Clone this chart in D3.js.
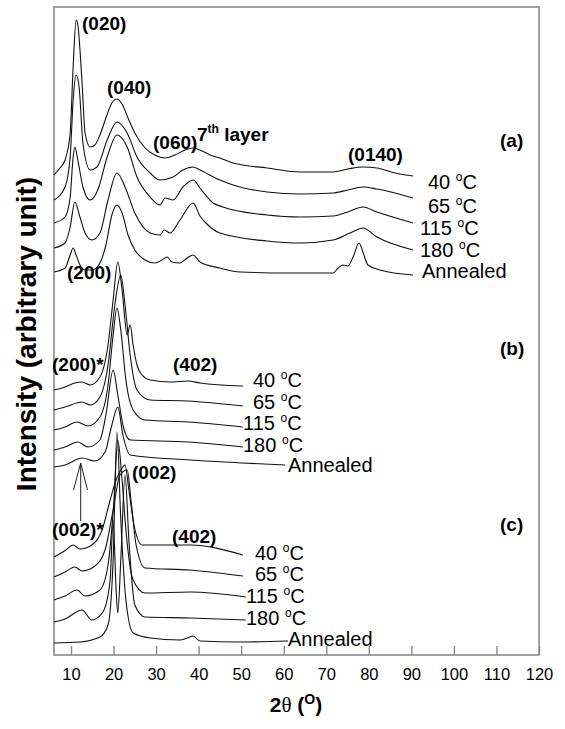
<!DOCTYPE html>
<html>
<head>
<meta charset="utf-8">
<script src="https://cdn.jsdelivr.net/npm/d3@7"></script>
<style>
  body { margin: 0; background: #fff; }
  svg { display: block; }
  text { font-family: Arial, "Liberation Sans", sans-serif; fill: #000; }
</style>
</head>
<body>
<svg id="chart" width="565" height="729"></svg>
<script>
// X-ray diffraction traces, stacked by temperature. Each point: [2θ (deg), intensity (arb. units, offset)]
const xDomain = [6, 120];
const xTicks = [10, 20, 30, 40, 50, 60, 70, 80, 90, 100, 110, 120];
const temps = ["40", "65", "115", "180", "Annealed"];

// (a)
const a40 = [[6.0,480],[7.4,487],[8.6,495],[9.8,522],[10.5,588],[11.2,635],[11.6,630],[12.6,572],[13.3,522],[14.5,508],[15.6,510],[16.8,520],[18.2,537],[19.6,552],[20.8,556],[22.0,551],[23.4,537],[25.0,522],[27.4,507],[29.7,500],[32.1,497],[34.4,500],[36.8,505],[38.7,507],[40.3,505],[42.7,500],[45.0,497],[48.1,492],[56.1,487],[63.8,483],[71.6,483],[75.1,486],[78.6,488],[81.9,487],[86.2,482],[90.4,479]];
const a65 = [[6.0,455],[8.6,468],[9.8,498],[10.5,555],[11.2,580],[11.9,568],[12.8,512],[14.5,485],[16.1,488],[18.5,515],[20.8,533],[23.2,522],[25.5,498],[28.6,482],[30.9,475],[34.0,478],[36.3,485],[38.7,488],[40.3,485],[45.0,475],[48.1,470],[56.1,463],[63.8,461],[71.6,462],[75.1,465],[78.6,468],[81.9,466],[90.4,457]];
const a115 = [[6.0,432],[8.6,438],[9.8,458],[10.5,498],[10.9,508],[11.6,495],[12.8,468],[14.5,455],[16.3,465],[18.5,498],[20.8,520],[23.2,508],[25.5,478],[28.6,458],[30.9,450],[32.1,457],[34.0,455],[36.3,468],[38.7,475],[40.3,467],[43.4,452],[45.7,448],[56.1,440],[63.8,438],[71.6,439],[75.1,443],[78.6,448],[81.9,443],[90.4,432]];
const a180 = [[6.0,407],[8.6,412],[9.8,428],[10.9,453],[12.1,438],[13.3,422],[14.9,415],[16.8,422],[18.7,455],[20.8,482],[22.7,468],[25.0,442],[28.6,422],[30.9,420],[31.9,425],[33.3,422],[35.6,435],[38.7,452],[40.3,439],[41.7,432],[45.0,422],[56.1,414],[63.8,412],[71.6,415],[75.6,422],[78.6,427],[81.9,418],[90.4,405]];
const aAnn = [[6.0,383],[8.6,387],[9.8,400],[10.5,407],[11.2,400],[12.1,390],[13.3,385],[14.9,385],[16.8,392],[18.2,410],[19.6,440],[20.8,450],[22.0,442],[23.4,420],[25.0,405],[27.4,395],[29.7,392],[31.4,395],[32.6,398],[33.7,393],[35.6,392],[37.3,397],[38.7,400],[40.3,393],[45.0,387],[49.7,383],[61.5,382],[71.6,382],[72.8,387],[73.9,390],[75.1,389],[76.3,398],[77.7,412],[78.6,403],[79.8,390],[82.6,385],[90.4,380]];

// (b)
const b40 = [[6.0,265],[8.6,268],[10.9,272],[12.6,273],[14.5,270],[16.8,278],[18.7,310],[19.9,355],[21.0,393],[22.0,365],[23.2,320],[23.9,330],[24.6,310],[25.5,290],[26.7,280],[28.6,275],[33.3,273],[37.5,274],[40.3,272],[50.4,269]];
const b65 = [[6.0,245],[8.6,248],[12.6,253],[14.5,250],[16.8,258],[18.7,290],[20.3,350],[21.7,380],[22.7,350],[23.9,300],[25.5,265],[28.6,255],[37.5,254],[50.4,249]];
const b115 = [[6.0,225],[8.6,228],[11.4,233],[14.0,229],[16.8,238],[18.7,270],[19.9,320],[20.8,347],[21.7,325],[22.9,275],[24.6,245],[27.4,235],[37.5,233],[50.4,228]];
const b180 = [[6.0,205],[8.6,208],[11.6,213],[14.0,208],[16.8,215],[18.2,240],[19.9,285],[21.0,260],[22.2,230],[23.9,215],[37.5,213],[50.4,208]];
const bAnn = [[6.0,188],[8.6,190],[12.6,197],[15.6,194],[18.0,203],[19.6,230],[21.0,248],[22.2,220],[23.9,200],[38.0,195],[50.4,192],[60.3,190]];

// (c)
const c40 = [[6.0,98],[8.8,105],[10.5,110],[12.1,106],[14.9,110],[17.3,125],[19.2,155],[20.6,175],[21.7,185],[22.7,190],[23.6,165],[24.8,130],[26.7,110],[38.0,110],[50.4,100]];
const c65 = [[6.0,78],[8.6,83],[10.9,88],[12.6,84],[15.6,89],[18.0,105],[19.9,145],[21.5,180],[23.2,185],[24.1,155],[25.3,110],[27.4,87],[38.0,85],[50.4,79]];
const c115 = [[6.0,55],[8.6,59],[11.4,65],[13.3,59],[16.8,65],[18.7,90],[20.1,155],[21.0,215],[22.0,175],[22.9,125],[24.6,75],[27.4,62],[38.0,63],[51.1,58]];
const c180 = [[6.0,33],[8.6,36],[12.6,45],[14.9,35],[17.5,43],[19.2,75],[19.9,135],[20.6,65],[21.0,42],[21.7,95],[22.7,180],[23.6,115],[25.0,50],[27.4,38],[38.0,37],[51.1,35]];
const cAnn = [[6.0,12],[12.1,13],[16.8,18],[18.7,30],[19.9,95],[20.8,223],[21.7,135],[22.9,55],[24.6,22],[28.6,17],[35.6,15],[37.3,17],[38.7,19],[40.3,14],[49.7,13],[61.0,14]];

const panels = [
  { traces: [a40, a65, a115, a180, aAnn] },
  { traces: [b40, b65, b115, b180, bAnn] },
  { traces: [c40, c65, c115, c180, cAnn] }
];

const W = 565, H = 729;
const M = { left: 54, right: 539, top: 7, bottom: 655 };

const svg = d3.select("#chart");
svg.append("rect").attr("width", W).attr("height", H).attr("fill", "#fff");

const x = d3.scaleLinear().domain(xDomain).range([M.left, M.right]);
const y = d3.scaleLinear().domain([0, M.bottom - M.top]).range([M.bottom, M.top]);

// frame
svg.append("rect")
  .attr("x", M.left).attr("y", M.top)
  .attr("width", M.right - M.left).attr("height", M.bottom - M.top)
  .attr("fill", "none").attr("stroke", "#8a8a8a").attr("stroke-width", 1.6);

// bottom axis with inward ticks
const xAxis = d3.axisBottom(x).tickValues(xTicks).tickSize(-9).tickSizeOuter(0).tickPadding(13);
const gx = svg.append("g").attr("transform", `translate(0,${M.bottom})`).call(xAxis);
gx.select(".domain").remove();
gx.selectAll(".tick line").attr("stroke", "#8a8a8a").attr("stroke-width", 1.4);
gx.selectAll(".tick text").attr("font-size", 16.5).attr("font-family", "Arial, 'Liberation Sans', sans-serif").attr("fill", "#000");

// traces
const line = d3.line().x(d => x(d[0])).y(d => y(d[1])).curve(d3.curveMonotoneX);
panels.forEach(p => {
  p.traces.forEach(t => {
    svg.append("path").attr("d", line(t))
      .attr("fill", "none").attr("stroke", "#111").attr("stroke-width", 1.1)
      .attr("stroke-linejoin", "round");
  });
});

// temperature labels
const tempPos = [
  [[428,189],[428,213],[420,235],[420,257],[422,278]],
  [[253,387],[253,409],[243,430],[243,452],[288,472]],
  [[255,560],[255,581],[246,603],[246,625],[288,646]]
];
tempPos.forEach(rows => {
  rows.forEach((pos, i) => {
    const t = svg.append("text").attr("x", pos[0]).attr("y", pos[1]).attr("font-size", 20);
    if (temps[i] === "Annealed") {
      t.text("Annealed");
    } else {
      t.append("tspan").text(temps[i] + " ");
      t.append("tspan").attr("font-size", 12).attr("dy", -8).text("o");
      t.append("tspan").attr("dy", 8).text("C");
    }
  });
});

// reflection labels
const peakLabels = [
  ["(020)", 82, 30], ["(040)", 107, 94], ["(060)", 153, 149], ["(0140)", 348, 161],
  ["(200)", 67, 279], ["(200)*", 52, 371], ["(402)", 173, 371],
  ["(002)", 132, 479], ["(002)*", 52, 536], ["(402)", 172, 543],
  ["(a)", 500, 147], ["(b)", 500, 355], ["(c)", 500, 531]
];
peakLabels.forEach(([s, px, py]) => {
  svg.append("text").attr("x", px).attr("y", py)
    .attr("font-size", 19).attr("font-weight", "bold").text(s);
});
const layer = svg.append("text").attr("x", 197).attr("y", 141)
  .attr("font-size", 19).attr("font-weight", "bold");
layer.append("tspan").text("7");
layer.append("tspan").attr("font-size", 12).attr("dy", -8).text("th");
layer.append("tspan").attr("dy", 8).text(" layer");

// arrow marking the (002)* reflection
svg.append("path").attr("d", "M80.7,521 L80.7,463 M73.5,490 L80.7,463 L87.5,490")
  .attr("fill", "none").attr("stroke", "#222").attr("stroke-width", 1);

// axis titles
const xt = svg.append("text").attr("x", 296).attr("y", 712)
  .attr("text-anchor", "middle").attr("font-size", 21).attr("font-weight", "bold");
xt.append("tspan").text("2");
xt.append("tspan").attr("font-family", "'Liberation Serif', 'DejaVu Serif', serif").attr("font-weight", "normal").text("θ");
xt.append("tspan").text(" (");
xt.append("tspan").attr("font-size", 14).attr("dy", -8).text("O");
xt.append("tspan").attr("dy", 8).text(")");

svg.append("text")
  .attr("transform", "translate(36,334) rotate(-90)")
  .attr("text-anchor", "middle").attr("font-size", 28).attr("font-weight", "bold")
  .text("Intensity (arbitrary unit)");
</script>
</body>
</html>
